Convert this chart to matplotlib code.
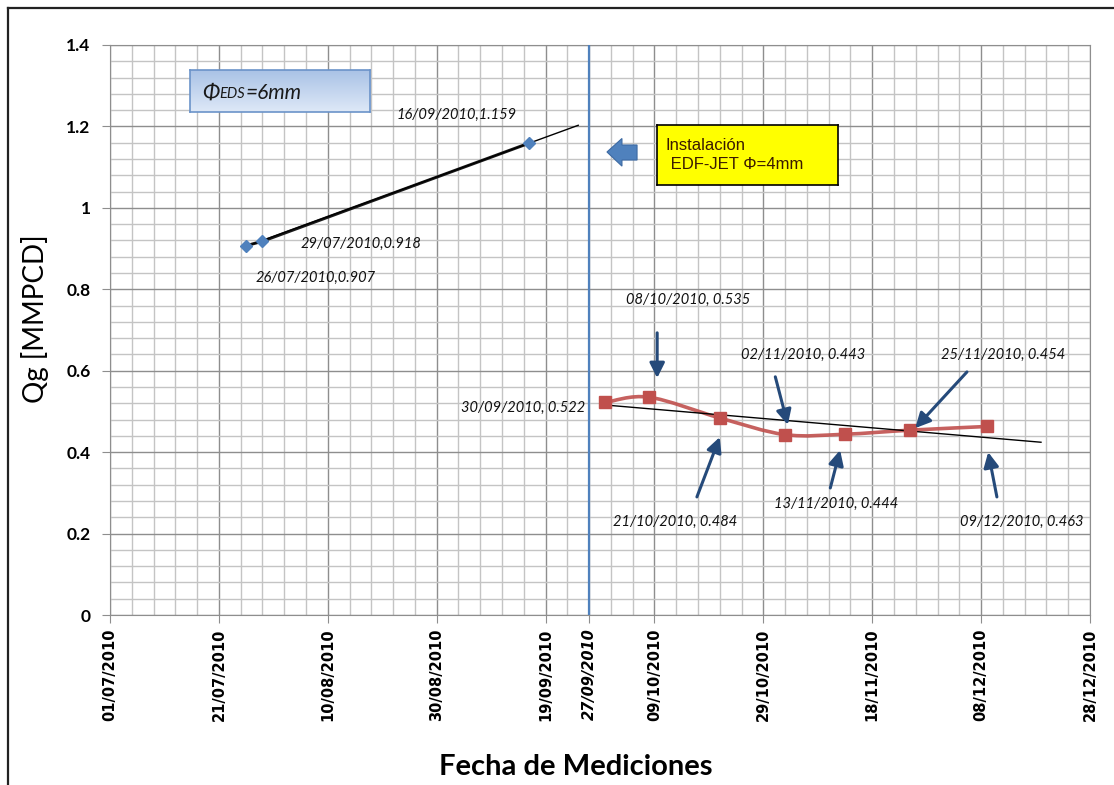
import matplotlib
matplotlib.use('Agg')
import matplotlib.pyplot as plt
import matplotlib.dates as mdates
from matplotlib.path import Path
from matplotlib.patches import PathPatch, Polygon
from matplotlib.lines import Line2D
from matplotlib.ticker import MultipleLocator, FormatStrFormatter
import numpy as np
from datetime import datetime, timedelta

# Qg measurements, EDS Ø6mm (before installation) and EDF-JET Ø4mm (after)
eds_dates = ['26/07/2010', '29/07/2010', '16/09/2010']
eds_qg = [0.907, 0.918, 1.159]
jet_dates = ['30/09/2010', '08/10/2010', '21/10/2010', '02/11/2010',
             '13/11/2010', '25/11/2010', '09/12/2010']
jet_qg = [0.522, 0.535, 0.484, 0.443, 0.444, 0.454, 0.463]
install_date = '27/09/2010'
axis_start = '01/07/2010'
axis_end = '28/12/2010'

# label placement relative to each point: (text dx days, text dy, ha)
eds_label_pos = [(12.7, -0.079, 'center'), (18.1, -0.007, 'center'), (-13.3, 0.069, 'center')]
# (text dx, text dy, ha, arrow tail dx, dy, arrow head dx, dy) -- None = no arrow
jet_label_pos = [
    (-3.7, -0.014, 'right', None),
    (7.2, 0.239, 'center', (1.5, 0.158, 1.5, 0.047)),
    (-8.2, -0.256, 'center', (-4.2, -0.194, 0.0, -0.047)),
    (3.3, 0.196, 'center', (-1.8, 0.142, 0.5, 0.024)),
    (-1.6, -0.171, 'center', (-2.7, -0.132, -0.9, -0.039)),
    (17.0, 0.185, 'center', (10.4, 0.143, 0.9, 0.005)),
    (6.5, -0.235, 'center', (1.9, -0.173, 0.3, -0.063)),
]

FMT = '%d/%m/%Y'
to_dt = lambda s: datetime.strptime(s, FMT)
eds_x = [to_dt(d) for d in eds_dates]
jet_x = [to_dt(d) for d in jet_dates]
x_install = to_dt(install_date)
x0, x1 = to_dt(axis_start), to_dt(axis_end)

LABEL_FONT = ['Lato', 'DejaVu Sans']
ARROW_C = '#254a7a'
RED = '#c0504d'
BLUE = '#4f81bd'


def smooth_path(xs, ys):
    # Bezier segments through every point (tangent = neighbour chord / 6)
    pts = np.column_stack([xs, ys])
    n = len(pts)
    verts, codes = [pts[0]], [Path.MOVETO]
    for i in range(n - 1):
        p0 = pts[i - 1] if i > 0 else pts[i]
        p1, p2 = pts[i], pts[i + 1]
        p3 = pts[i + 2] if i + 2 < n else pts[i + 1]
        verts += [p1 + (p2 - p0) / 6, p2 - (p3 - p1) / 6, p2]
        codes += [Path.CURVE4] * 3
    return Path(verts, codes)


def trend(xs, ys, forward_days):
    xn = mdates.date2num(xs)
    k, b = np.polyfit(xn, ys, 1)
    xt = np.array([xn[0], xn[-1] + forward_days])
    return mdates.num2date(xt), k * xt + b


fig = plt.figure(figsize=(11.14, 7.85), dpi=100)
ax = fig.add_axes([110 / 1114, 170 / 785, 980 / 1114, 570 / 785])

# grid
ax.set_xlim(x0, x1)
ax.set_ylim(0, 1.4)
major_ticks = [x0 + timedelta(days=20 * i) for i in range(10)]
ax.yaxis.set_major_locator(MultipleLocator(0.2))
ax.yaxis.set_minor_locator(MultipleLocator(0.04))
ax.set_xticks([mdates.date2num(x0 + timedelta(days=4 * i)) for i in range(46)], minor=True)
ax.grid(True, which='major', color='#8e8e8e', lw=1.0, zorder=0)
ax.grid(True, which='minor', color='#c4c4c4', lw=1.0, zorder=0)
ax.set_axisbelow(True)
for s in ax.spines.values():
    s.set_color('#8e8e8e')
ax.tick_params(which='minor', length=0)
ax.tick_params(which='major', length=6, color='#8e8e8e', direction='out')

ticks = major_ticks + [x_install]
ax.set_xticks(ticks)
ax.set_xticklabels([t.strftime(FMT) for t in ticks], rotation=90,
                   fontsize=10.5, fontweight='bold', family='DejaVu Sans')
for t, lab, tk in zip(ticks, ax.get_xticklabels(), ax.xaxis.get_major_ticks()):
    if t == x_install:
        lab.set_fontstyle('italic')
        tk.tick1line.set_color(BLUE)
ax.yaxis.set_major_formatter(FormatStrFormatter('%g'))
for lab in ax.get_yticklabels():
    lab.set_fontsize(12.5)
    lab.set_fontweight('bold')
    lab.set_family(LABEL_FONT)
ax.tick_params(axis='y', pad=8)

ax.set_xlabel('Fecha de Mediciones', fontsize=21, fontweight='bold', family=LABEL_FONT)
ax.set_ylabel('Qg [MMPCD]', fontsize=20, family=LABEL_FONT)
ax.xaxis.set_label_coords(0.475, -0.243)
ax.yaxis.set_label_coords(-0.062, 0.52)

# installation line
ax.axvline(x_install, color=BLUE, lw=1.6, zorder=3)

# EDS series + trend
ax.plot(eds_x, eds_qg, color='#1a1a1a', lw=2.2, zorder=4)
tx, ty = trend(eds_x, eds_qg, 9)
ax.plot(tx, ty, color='black', lw=1.0, zorder=4)
ax.plot(eds_x, eds_qg, ls='none', marker='D', ms=6, color=BLUE, zorder=5)

# EDF-JET series (smoothed) + trend
jx = mdates.date2num(jet_x)
ax.add_patch(PathPatch(smooth_path(jx, jet_qg), fill=False, edgecolor=RED,
                       lw=2.6, zorder=4, alpha=0.9))
tx, ty = trend(jet_x, jet_qg, 10)
ax.plot(tx, ty, color='black', lw=1.0, zorder=5)
ax.plot(jet_x, jet_qg, ls='none', marker='s', ms=9, color=RED, zorder=6)

# data labels
for d, x, y, (dx, dy, ha) in zip(eds_dates, eds_x, eds_qg, eds_label_pos):
    ax.text(x + timedelta(days=dx), y + dy, f'{d},{y:.3f}', ha=ha, va='center',
            fontsize=10.5, style='italic', family=LABEL_FONT, color='#111111', zorder=7)

for d, x, y, (dx, dy, ha, arr) in zip(jet_dates, jet_x, jet_qg, jet_label_pos):
    ax.text(x + timedelta(days=dx), y + dy, f'{d}, {y:.3f}', ha=ha, va='center',
            fontsize=10.5, style='italic', family=LABEL_FONT, color='#111111', zorder=7)
    if arr is not None:
        tdx, tdy, hdx, hdy = arr
        ax.annotate('', xy=(x + timedelta(days=hdx), y + hdy),
                    xytext=(x + timedelta(days=tdx), y + tdy),
                    arrowprops=dict(arrowstyle='-|>,head_length=0.9,head_width=0.45',
                                    color=ARROW_C, lw=2.2, shrinkA=0, shrinkB=0),
                    zorder=7)

# Ø EDS box with gradient
box = ax.inset_axes([0.0816, 0.8825, 0.1837, 0.0737])
grad = np.linspace(0, 1, 64).reshape(-1, 1)
top_c = np.array([0.66, 0.76, 0.90])
bot_c = np.array([0.87, 0.91, 0.97])
img = top_c + (bot_c - top_c) * grad[:, :, None]
box.imshow(img, aspect='auto', extent=[0, 1, 0, 1])
box.set_xticks([]); box.set_yticks([])
for s in box.spines.values():
    s.set_color('#6b93c9'); s.set_linewidth(1.2)
t1 = box.text(0.07, 0.45, 'Φ', fontsize=16, style='italic', va='center',
              family=LABEL_FONT, color='#1a1a1a')
t2 = box.annotate('EDS', xy=(1, 0.12), xycoords=t1, va='bottom', fontsize=10.5,
                  style='italic', family=LABEL_FONT, color='#1a1a1a')
box.annotate('=6mm', xy=(1, 0), xycoords=t2, xytext=(0, -1.5), textcoords='offset points',
             va='bottom', fontsize=15, style='italic', family=LABEL_FONT, color='#1a1a1a')

# installation note box
note = ax.inset_axes([0.558, 0.754, 0.185, 0.106])
note.set_facecolor('#ffff00')
note.set_xticks([]); note.set_yticks([])
for s in note.spines.values():
    s.set_color('black'); s.set_linewidth(1.2)
note.text(0.05, 0.5, 'Instalación\n EDF-JET Φ=4mm', va='center', ha='left',
          fontsize=12, family='Liberation Sans', color='#3a1a00', linespacing=1.3)

# block arrow pointing at the installation line
ax.add_patch(Polygon([(0.5071, 0.8123), (0.5224, 0.8360), (0.5224, 0.8246),
                      (0.5378, 0.8246), (0.5378, 0.7982), (0.5224, 0.7982),
                      (0.5224, 0.7875)], closed=True, transform=ax.transAxes,
                     facecolor=BLUE, edgecolor='#3d6aa3', lw=0.8, zorder=6))

# chart area border
fig.add_artist(Line2D([8 / 1114, 1], [1 - 8 / 785, 1 - 8 / 785], color='#222222', lw=1.6))
fig.add_artist(Line2D([8 / 1114, 8 / 1114], [0, 1 - 8 / 785], color='#222222', lw=1.6))

fig.savefig('out.png', dpi=100)
